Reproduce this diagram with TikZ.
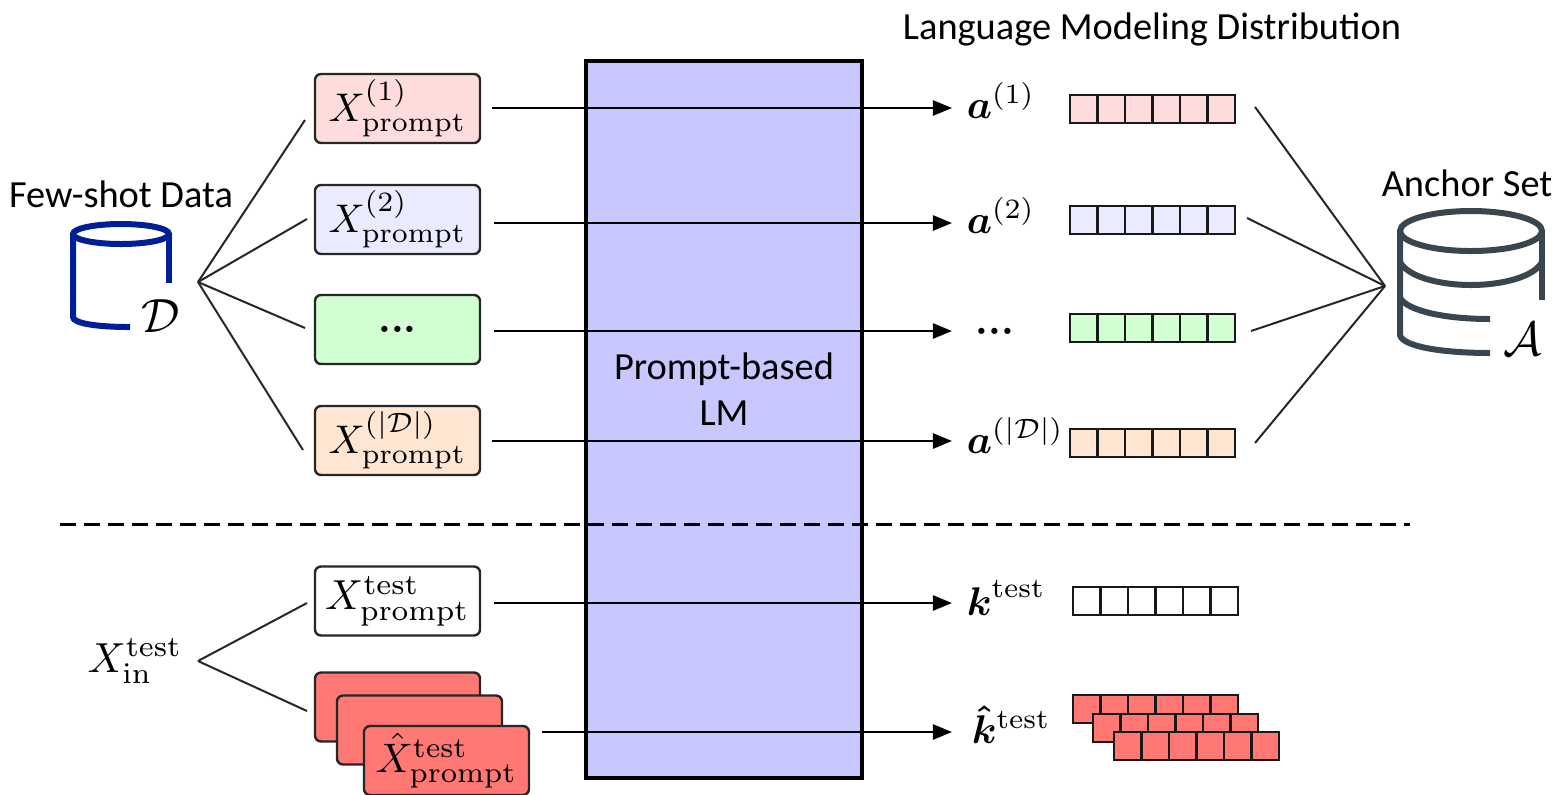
\documentclass[tikz,border=0pt]{standalone}
\usepackage[no-math]{fontspec}
\usepackage{amsmath,amssymb}
\usetikzlibrary{arrows.meta}
\newfontfamily\labelfont{Carlito}
\definecolor{lmblue}{RGB}{200,200,255}
\definecolor{rowred}{RGB}{255,220,220}
\definecolor{rowblue}{RGB}{235,235,255}
\definecolor{rowgreen}{RGB}{210,255,210}
\definecolor{roworange}{RGB}{255,230,210}
\definecolor{testred}{RGB}{255,120,115}
\definecolor{datablue}{RGB}{0,30,150}
\definecolor{anchorgrey}{RGB}{55,70,80}
\tikzset{
  promptbox/.style={draw=black!85,line width=0.6pt,rounded corners=1.5pt,minimum width=41.25pt,minimum height=17.25pt,inner sep=0pt},
  fanline/.style={black!85,line width=0.5pt},
  flowline/.style={line width=0.6pt,-{Stealth[length=4.8pt,width=3.8pt,inset=0pt]}},
  titletext/.style={font=\labelfont\fontsize{9.6}{11.5}\selectfont,inner sep=0pt},
  mathlabel/.style={anchor=base west,inner sep=0pt},
}
\newcommand{\cellbar}[3]{
  \draw[fill=#3,draw=black!90,line width=0.6pt] (#1,#2) rectangle +(165,28);
  \draw[black!90,line width=0.6pt,shift={(#1,#2)},xstep=27.5,ystep=28] (0,0) grid (165,28);
}
\begin{document}
\begin{tikzpicture}[x=0.25pt,y=-0.25pt]

\useasboundingbox (0,0) rectangle (1560,794);
\draw[fill=lmblue,line width=0.8pt] (586,61) rectangle (862,778);
\draw (724,369) node[titletext] (lmtop) {Prompt-based};
\draw (724,413) node[titletext] (lmbottom) {LM};
\coordinate (splitleft) at (60,524);
\coordinate (splitright) at (1410,524);
\draw[dash pattern=on 4pt off 2pt,line width=0.75pt] (splitleft) -- (splitright);

\draw (121,194) node[titletext] (fewshot) {Few-shot Data};
\draw (1467,183) node[titletext] (anchorset) {Anchor Set};
\draw (1152,29) node[titletext] (lmdist) {Language Modeling Distribution};

\draw[datablue,line width=1.5pt] (121,234) ellipse [x radius=48,y radius=10];
\draw[datablue,line width=1.5pt] (169,234) -- (169,283);
\draw[datablue,line width=1.5pt] (73,234) -- (73,317) .. controls (73,323) and (95,327) .. (130,327);
\draw (161,316) node[inner sep=0pt,font=\large] (datasym) {$\mathcal{D}$};

\draw[anchorgrey,line width=1.5pt] (1471,231) ellipse [x radius=71,y radius=20];
\draw[anchorgrey,line width=1.5pt] (1542,231) -- (1542,300);
\draw[anchorgrey,line width=1.5pt] (1400,231) -- (1400,335) .. controls (1402,346) and (1440,353) .. (1490,353);
\draw[anchorgrey,line width=1.5pt] (1400,262) .. controls (1408,277) and (1440,285) .. (1471,285) .. controls (1502,285) and (1534,277) .. (1542,262);
\draw[anchorgrey,line width=1.5pt] (1400,298) .. controls (1408,311) and (1445,319) .. (1490,319);
\draw (1523,339) node[inner sep=0pt,font=\large] (anchorsym) {$\mathcal{A}$};

\draw (397.5,108.5) node[promptbox,fill=rowred] (prompt1) {$X_{\mathrm{prompt}}^{(1)}$};
\draw (397.5,219.5) node[promptbox,fill=rowblue] (prompt2) {$X_{\mathrm{prompt}}^{(2)}$};
\draw (397.5,329.5) node[promptbox,fill=rowgreen] (prompt3) {\raisebox{-0.75pt}{\textbf{...}}};
\draw (397.5,440.5) node[promptbox,fill=roworange] (prompt4) {$X_{\mathrm{prompt}}^{(|\mathcal{D}|)}$};
\draw (397.5,601) node[promptbox,fill=white] (prompttest) {\scalebox{1.05}{$X_{\mathrm{prompt}}^{\mathrm{test}}$}};
\draw (397.5,707) node[promptbox,fill=testred] (promptred1) {};
\draw (419.5,730) node[promptbox,fill=testred] (promptred2) {};
\draw (446.5,760.5) node[promptbox,fill=testred] (promptred3) {\scalebox{1.03}{$\hat{X}_{\mathrm{prompt}}^{\mathrm{test}}$}};
\draw (135,661) node[inner sep=0pt] (xin) {\scalebox{1.05}{$X_{\mathrm{in}}^{\mathrm{test}}$}};

\coordinate (datafan) at (198,282);
\coordinate (fan1) at (305,120);
\coordinate (fan2) at (307,219);
\coordinate (fan3) at (305,328);
\coordinate (fan4) at (303,450);
\draw[fanline] (datafan) -- (fan1);
\draw[fanline] (datafan) -- (fan2);
\draw[fanline] (datafan) -- (fan3);
\draw[fanline] (datafan) -- (fan4);
\coordinate (testfan) at (198,661);
\coordinate (fan5) at (307,603);
\coordinate (fan6) at (307,711);
\draw[fanline] (testfan) -- (fan5);
\draw[fanline] (testfan) -- (fan6);

\draw (966,118) node[mathlabel] (a1) {$\boldsymbol{a}^{(1)}$};
\draw (966,233) node[mathlabel] (a2) {$\boldsymbol{a}^{(2)}$};
\draw (995,331) node[inner sep=0pt] (a3) {\textbf{...}};
\draw (966,453) node[mathlabel] (a4) {$\boldsymbol{a}^{(|\mathcal{D}|)}$};
\draw (966,615) node[mathlabel] (ktest) {$\boldsymbol{k}^{\mathrm{test}}$};
\draw (971,743) node[mathlabel] (khat) {$\smash{\boldsymbol{\hat{k}}}^{\mathrm{test}}$};

\coordinate (end1) at (952,108);
\coordinate (end2) at (952,223);
\coordinate (end3) at (952,331);
\coordinate (end4) at (952,441);
\coordinate (end5) at (952,603);
\coordinate (end6) at (952,732);
\draw[flowline,shorten <=2.75pt] (prompt1.east |- end1) -- (end1);
\draw[flowline,shorten <=3.25pt] (prompt2.east |- end2) -- (end2);
\draw[flowline,shorten <=3.25pt] (prompt3.east |- end3) -- (end3);
\draw[flowline,shorten <=2.75pt] (prompt4.east |- end4) -- (end4);
\draw[flowline,shorten <=3.25pt] (prompttest.east |- end5) -- (end5);
\draw[flowline,shorten <=3pt] (promptred3.east |- end6) -- (end6);

\cellbar{1070}{95}{rowred}
\cellbar{1070}{206}{rowblue}
\cellbar{1070}{314}{rowgreen}
\cellbar{1070}{429}{roworange}
\cellbar{1073}{587}{white}
\cellbar{1073}{695}{testred}
\cellbar{1093}{714}{testred}
\cellbar{1114}{732}{testred}

\coordinate (anchorfan) at (1385,286);
\coordinate (bar1) at (1255,107);
\coordinate (bar2) at (1247,218);
\coordinate (bar3) at (1251,331);
\coordinate (bar4) at (1255,443);
\draw[fanline] (bar1) -- (anchorfan);
\draw[fanline] (bar2) -- (anchorfan);
\draw[fanline] (bar3) -- (anchorfan);
\draw[fanline] (bar4) -- (anchorfan);
\end{tikzpicture}
\end{document}
